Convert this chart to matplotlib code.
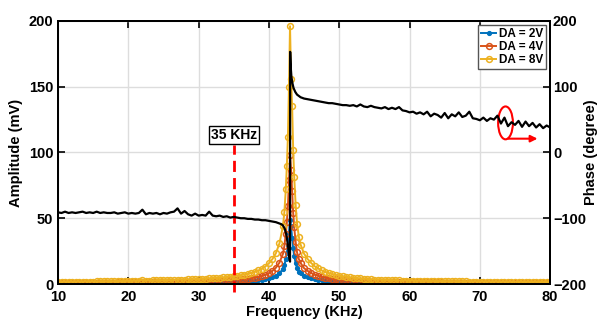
import matplotlib
matplotlib.use('Agg')
import matplotlib.pyplot as plt
from matplotlib.patches import Ellipse

plt.rcParams['font.family'] = ['Liberation Sans', 'DejaVu Sans']
plt.rcParams['font.weight'] = 'bold'

# sweep frequencies for the amplitude curves (kHz)
amp_freq = [
    10, 10.5, 11, 11.5, 12, 12.5, 13, 13.5, 14, 14.5, 15, 15.5, 16, 16.5, 17, 17.5,
    18, 18.5, 19, 19.5, 20, 20.5, 21, 21.5, 22, 22.5, 23, 23.5, 24, 24.5, 25, 25.5,
    26, 26.5, 27, 27.5, 28, 28.5, 29, 29.5, 30, 30.5, 31, 31.5, 32, 32.5, 33, 33.5,
    34, 34.5, 35, 35.5, 36, 36.5, 37, 37.5, 38, 38.5, 39, 39.5, 40, 40.5, 41, 41.5,
    42.0, 42.2, 42.4, 42.55, 42.7, 42.85, 43.0, 43.15, 43.3, 43.45, 43.6, 43.8, 44.0, 44.25,
    44.5, 45, 45.5, 46, 46.5, 47, 47.5, 48, 48.5, 49, 49.5, 50, 50.5, 51, 51.5, 52,
    52.5, 53, 53.5, 54, 54.5, 55, 55.5, 56, 56.5, 57, 57.5, 58, 58.5, 59, 59.5, 60,
    60.5, 61, 61.5, 62, 62.5, 63, 63.5, 64, 64.5, 65, 65.5, 66, 66.5, 67, 67.5, 68,
    68.5, 69, 69.5, 70, 70.5, 71, 71.5, 72, 72.5, 73, 73.5, 74, 74.5, 75, 75.5, 76,
    76.5, 77, 77.5, 78, 78.5, 79, 79.5, 80]

amp_2v = [
    0.4, 0.4, 0.4, 0.4, 0.4, 0.5, 0.5, 0.5, 0.5, 0.5, 0.5, 0.5, 0.5, 0.5, 0.5, 0.5,
    0.5, 0.6, 0.6, 0.6, 0.6, 0.6, 0.6, 0.6, 0.8, 0.7, 0.7, 0.7, 0.7, 0.7, 0.7, 0.7,
    0.8, 0.8, 0.8, 0.8, 0.9, 0.9, 0.9, 0.9, 1.0, 1.0, 1.0, 1.1, 1.1, 1.2, 1.2, 1.3,
    1.4, 1.4, 1.5, 1.6, 1.7, 1.9, 2.0, 2.2, 2.4, 2.7, 3.0, 3.5, 4.2, 5.0, 6.2, 8.2,
    11.5, 14.5, 19, 23.5, 30, 39, 49, 44, 35, 27, 21, 16, 12, 9.5,
    8, 6, 5, 4.2, 3.6, 3.1, 2.7, 2.4, 2.2, 2.0, 1.8, 1.6, 1.5, 1.4, 1.3, 1.2,
    1.2, 1.1, 1.0, 1.0, 0.9, 0.9, 0.9, 0.8, 0.8, 0.8, 0.8, 0.7, 0.7, 0.7, 0.7, 0.7,
    0.7, 0.6, 0.6, 0.6, 0.6, 0.6, 0.6, 0.6, 0.6, 0.6, 0.6, 0.6, 0.6, 0.6, 0.5, 0.5,
    0.5, 0.5, 0.5, 0.5, 0.5, 0.5, 0.5, 0.5, 0.5, 0.5, 0.5, 0.5, 0.5, 0.5, 0.5, 0.4,
    0.4, 0.4, 0.4, 0.4, 0.4, 0.4, 0.4, 0.4]

amp_4v = [
    0.9, 0.9, 0.9, 0.9, 0.9, 1.0, 1.0, 1.0, 1.0, 1.0, 1.0, 1.1, 1.1, 1.1, 1.1, 1.1,
    1.1, 1.2, 1.2, 1.2, 1.2, 1.3, 1.3, 1.3, 1.5, 1.4, 1.4, 1.4, 1.4, 1.5, 1.5, 1.5,
    1.6, 1.6, 1.7, 1.7, 1.8, 1.8, 1.9, 1.9, 2.0, 2.1, 2.1, 2.2, 2.3, 2.4, 2.5, 2.6,
    2.8, 2.9, 3.1, 3.3, 3.5, 3.8, 4.1, 4.5, 4.9, 5.4, 6.1, 7.0, 8.3, 10.0, 12.4, 16.3,
    23, 29, 38, 47, 59, 79, 98, 87, 71, 54, 43, 32, 24, 19,
    16, 12, 10, 8.4, 7.1, 6.2, 5.4, 4.8, 4.4, 3.9, 3.6, 3.3, 3.0, 2.8, 2.6, 2.5,
    2.3, 2.2, 2.1, 2.0, 1.9, 1.8, 1.7, 1.7, 1.6, 1.6, 1.5, 1.5, 1.4, 1.4, 1.4, 1.3,
    1.3, 1.3, 1.3, 1.2, 1.2, 1.2, 1.2, 1.2, 1.2, 1.1, 1.1, 1.1, 1.1, 1.1, 1.1, 1.1,
    1.0, 1.0, 1.0, 1.0, 1.0, 1.0, 1.0, 1.0, 1.0, 0.9, 0.9, 0.9, 0.9, 0.9, 0.9, 0.9,
    0.9, 0.9, 0.9, 0.9, 0.9, 0.8, 0.8, 0.8]

amp_8v = [
    1.6, 1.6, 1.7, 1.7, 1.7, 1.8, 1.8, 1.8, 1.9, 1.9, 1.9, 2.0, 2.0, 2.0, 2.1, 2.1,
    2.1, 2.2, 2.2, 2.3, 2.3, 2.4, 2.4, 2.6, 3.2, 2.6, 2.6, 2.7, 2.7, 2.8, 2.9, 2.9,
    3.0, 3.1, 3.3, 3.3, 3.4, 3.5, 3.6, 3.7, 3.8, 3.9, 4.1, 4.2, 4.4, 4.6, 4.8, 5.0,
    5.3, 5.6, 5.9, 6.3, 6.7, 7.2, 7.8, 8.5, 9.3, 10.3, 11.6, 13.3, 15.8, 19.0, 23.5, 31.0,
    44, 55, 72, 90, 112, 150, 196, 156, 135, 102, 81, 60, 46, 36,
    30, 23, 19, 16, 13.5, 11.8, 10.3, 9.2, 8.3, 7.5, 6.9, 6.3, 5.8, 5.4, 5.0, 4.7,
    4.4, 4.2, 4.0, 3.8, 3.6, 3.4, 3.3, 3.2, 3.1, 3.0, 2.9, 2.8, 2.7, 2.6, 2.6, 2.5,
    2.5, 2.4, 2.4, 2.3, 2.3, 2.3, 2.2, 2.2, 2.2, 2.1, 2.1, 2.1, 2.0, 2.0, 2.0, 2.0,
    1.9, 1.9, 1.9, 1.9, 1.8, 1.8, 1.8, 1.8, 1.8, 1.7, 1.7, 1.7, 1.7, 1.7, 1.7, 1.6,
    1.6, 1.6, 1.6, 1.6, 1.6, 1.5, 1.5, 1.5]

# phase trace (degrees)
phase_freq = [
    10, 10.5, 11, 11.5, 12, 12.5, 13, 13.5, 14, 14.5, 15, 15.5, 16, 16.5, 17, 17.5,
    18, 18.5, 19, 19.5, 20, 20.5, 21, 21.5, 22, 22.5, 23, 23.5, 24, 24.5, 25, 25.5,
    26, 26.5, 27, 27.5, 28, 28.5, 29, 29.5, 30, 30.5, 31, 31.5, 32, 32.5, 33, 33.5,
    34, 34.5, 35, 35.5, 36, 36.5, 37, 37.5, 38, 38.5, 39, 39.5, 40, 40.5, 41, 41.5,
    41.75, 42.0, 42.25, 42.5, 42.75, 42.9, 43.0, 43.02, 43.1, 43.2, 43.35, 43.5, 43.75, 44.0,
    44.5, 45, 45.5, 46, 46.5, 47, 47.5, 48, 48.5, 49, 49.5, 50, 50.5, 51, 51.5, 52,
    52.5, 53, 53.5, 54, 54.5, 55, 55.5, 56, 56.5, 57, 57.5, 58, 58.5, 59, 59.5, 60,
    60.5, 61, 61.5, 62, 62.5, 63, 63.5, 64, 64.5, 65, 65.5, 66, 66.5, 67, 67.5, 68,
    68.5, 69, 69.5, 70, 70.5, 71, 71.5, 72, 72.5, 73, 73.5, 74, 74.5, 75, 75.5, 76,
    76.5, 77, 77.5, 78, 78.5, 79, 79.5, 80]

phase_deg = [
    -91, -92, -90, -92, -91, -92, -91, -90, -92, -91, -92, -90, -92, -91, -92, -92,
    -91, -93, -92, -91, -93, -92, -93, -92, -87, -94, -92, -93, -92, -94, -92, -93,
    -91, -90, -85, -93, -89, -94, -96, -93, -96, -95, -96, -90, -96, -97, -96, -98,
    -97, -99, -98, -99, -100, -100, -101, -101, -102, -102, -103, -103, -104, -105, -106, -108,
    -109, -111, -116, -126, -145, -160, -166, 153, 130, 115, 105, 98, 92, 88,
    84, 82, 81, 80, 79, 78, 77, 76, 75, 75, 74, 73, 72, 72, 71, 72,
    70, 73, 70, 69, 71, 69, 68, 67, 69, 66, 68, 66, 69, 64, 63, 61,
    62, 59, 61, 58, 62, 55, 59, 57, 53, 60, 52, 58, 55, 61, 54, 56,
    62, 52, 51, 49, 53, 48, 52, 50, 56, 44, 53, 40, 46, 42, 48, 39,
    47, 40, 45, 38, 43, 37, 41, 38]

series_labels = ['DA = 2V', 'DA = 4V', 'DA = 8V']
series_colors = ['#0072BD', '#D95319', '#EDB120']
marker_freq = 35
marker_label = '35 KHz'

fig = plt.figure(figsize=(5.98, 3.2), dpi=100)
ax = fig.add_axes([0.097, 0.1125, 0.823, 0.822])
ax2 = ax.twinx()

handles = []
for vals, lab, col in zip([amp_2v, amp_4v, amp_8v], series_labels, series_colors):
    if lab == 'DA = 2V':
        h, = ax.plot(amp_freq, vals, '-', marker='.', ms=5.5, color=col, lw=1.4, label=lab)
    else:
        h, = ax.plot(amp_freq, vals, '-', marker='o', ms=4.2, mfc='none', mew=1.1,
                     color=col, lw=1.4, label=lab)
    handles.append(h)

ax.plot([marker_freq, marker_freq], [-6, 106], color='red', lw=2,
        dashes=(4, 2.2), clip_on=False, zorder=5)
ax.text(marker_freq, 113, marker_label, ha='center', va='center', fontsize=10,
        fontweight='bold', zorder=6,
        bbox=dict(boxstyle='square,pad=0.15', fc='white', ec='black', lw=1))

ax2.plot(phase_freq, phase_deg, color='black', lw=1.6, zorder=4)
ax2.add_patch(Ellipse((73.65, 45), 2.1, 50, fill=False, ec='red', lw=1.5))
ax2.annotate('', xy=(78.2, 21), xytext=(74.0, 21),
             arrowprops=dict(arrowstyle='-|>', color='red', lw=1.5,
                             mutation_scale=10, shrinkA=0, shrinkB=0))

ax.set_xlim(10, 80)
ax.set_ylim(0, 200)
ax2.set_ylim(-200, 200)
ax.set_xticks([10, 20, 30, 40, 50, 60, 70, 80])
ax.set_yticks([0, 50, 100, 150, 200])
ax2.set_yticks([-200, -100, 0, 100, 200])

ax.grid(True, color='#dddddd', lw=1)
ax.set_axisbelow(True)

ax.tick_params(axis='x', direction='in', top=True, length=5, width=1.2,
               labelsize=10.5, pad=4)
ax.tick_params(axis='y', direction='in', length=5, width=1.2, labelsize=10.5)
ax2.tick_params(axis='y', direction='in', length=5, width=1.2, labelsize=10.5, pad=2)
for lbl in ax.get_xticklabels() + ax.get_yticklabels() + ax2.get_yticklabels():
    lbl.set_fontweight('bold')

for a in (ax, ax2):
    for sp in a.spines.values():
        sp.set_linewidth(1.4)

ax.set_xlabel('Frequency (KHz)', fontsize=10.5, fontweight='bold', labelpad=1)
ax.set_ylabel('Amplitude (mV)', fontsize=10.5, fontweight='bold', labelpad=4)
ax2.set_ylabel('Phase (degree)', fontsize=10.5, fontweight='bold')
ax2.yaxis.set_label_coords(1.068, 0.5)

leg = ax2.legend(handles=handles, loc='upper right',
                 prop={'weight': 'bold', 'size': 8.5},
                 handlelength=1.3, handletextpad=0.2, labelspacing=0.1,
                 borderpad=0.25, borderaxespad=0.35, fancybox=False,
                 framealpha=1)
leg.get_frame().set_edgecolor('#555555')
leg.get_frame().set_linewidth(1)

fig.savefig('out.png', dpi=100)
